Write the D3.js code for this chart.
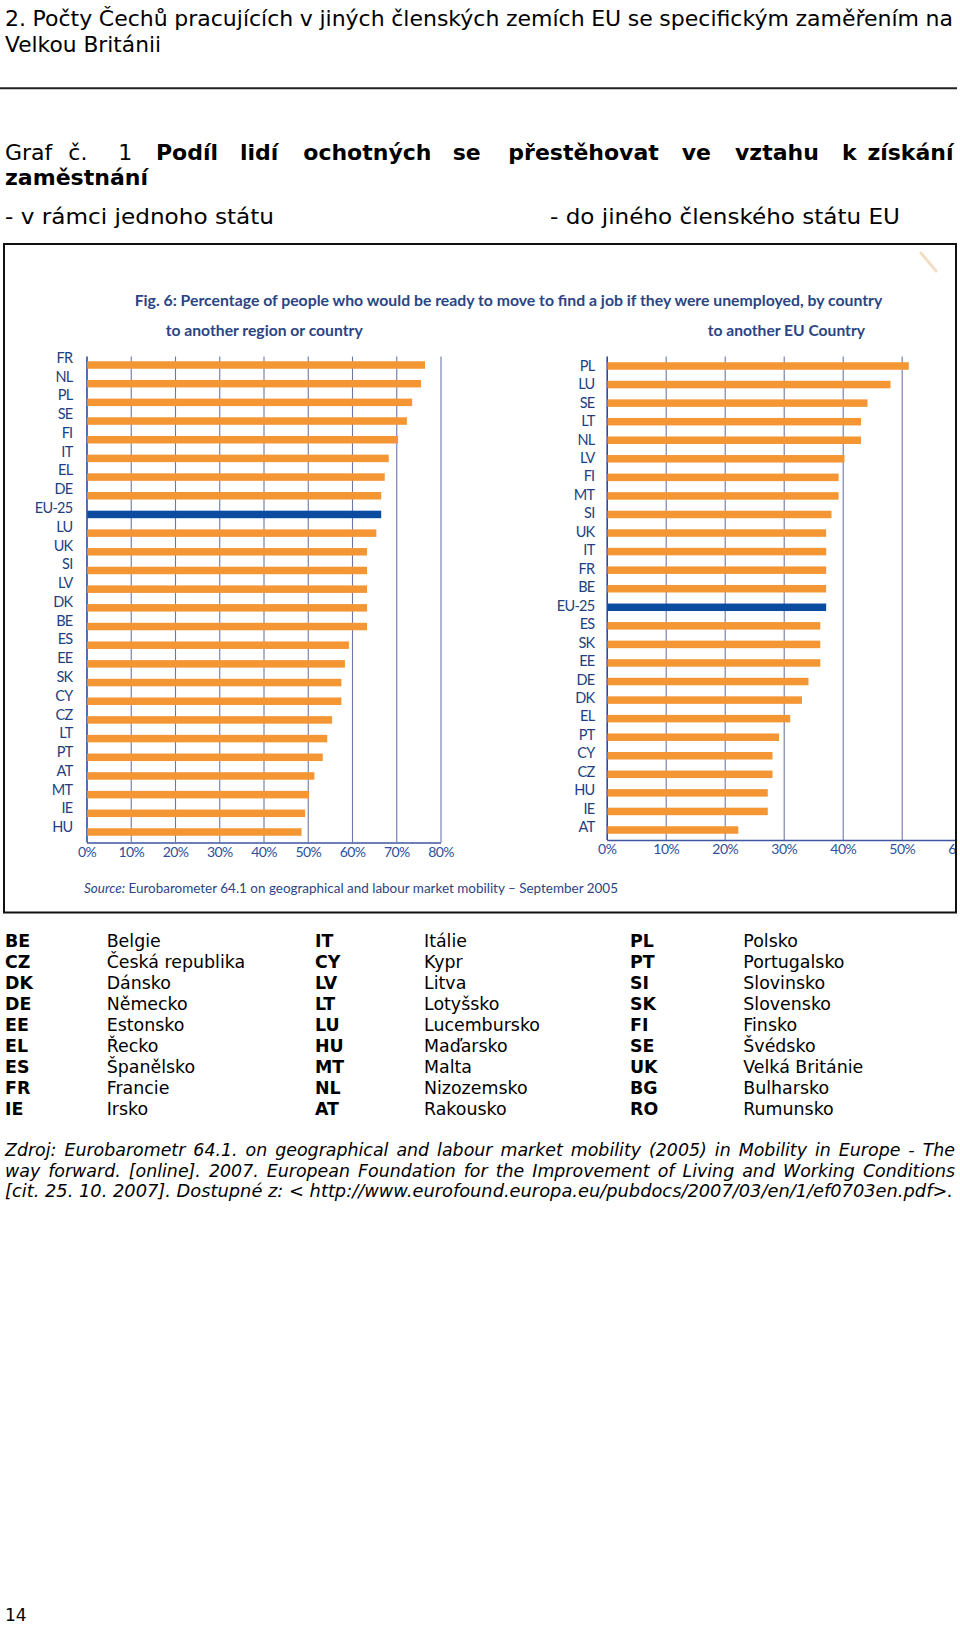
<!DOCTYPE html>
<html>
<head>
<meta charset="utf-8">
<script src="https://cdn.jsdelivr.net/npm/d3@7"></script>
<style>
  html, body { margin: 0; padding: 0; background: #fff; }
  svg { display: block; }
</style>
</head>
<body>
<script>
// ---------- DATA ----------
const leftCats = ["FR","NL","PL","SE","FI","IT","EL","DE","EU-25","LU","UK","SI","LV","DK","BE","ES","EE","SK","CY","CZ","LT","PT","AT","MT","IE","HU"];
const leftVals = [76.5,75.6,73.6,72.4,70.4,68.3,67.4,66.6,66.6,65.5,63.4,63.4,63.4,63.4,63.4,59.3,58.4,57.6,57.6,55.5,54.4,53.4,51.5,50.3,49.4,48.6];
const leftTicks = [0,10,20,30,40,50,60,70,80];

const rightCats = ["PL","LU","SE","LT","NL","LV","FI","MT","SI","UK","IT","FR","BE","EU-25","ES","SK","EE","DE","DK","EL","PT","CY","CZ","HU","IE","AT"];
const rightVals = [51.2,48.1,44.2,43.1,43.1,40.3,39.3,39.3,38.1,37.2,37.2,37.2,37.2,37.2,36.2,36.2,36.2,34.2,33.1,31.1,29.2,28.1,28.1,27.3,27.3,22.3];
const rightTicks = [0,10,20,30,40,50,60];

const legendCodes1 = ["BE","CZ","DK","DE","EE","EL","ES","FR","IE"];
const legendNames1 = ["Belgie","Česká republika","Dánsko","Německo","Estonsko","Řecko","Španělsko","Francie","Irsko"];
const legendCodes2 = ["IT","CY","LV","LT","LU","HU","MT","NL","AT"];
const legendNames2 = ["Itálie","Kypr","Litva","Lotyšsko","Lucembursko","Maďarsko","Malta","Nizozemsko","Rakousko"];
const legendCodes3 = ["PL","PT","SI","SK","FI","SE","UK","BG","RO"];
const legendNames3 = ["Polsko","Portugalsko","Slovinsko","Slovensko","Finsko","Švédsko","Velká Británie","Bulharsko","Rumunsko"];

const headerLine1 = "2. Počty Čechů pracujících v jiných členských zemích EU se specifickým zaměřením na";
const headerLine2 = "Velkou Británii";
const grafWords = [["Graf",false],["č.",false],["1",false],["Podíl",true],["lidí",true],["ochotných",true],["se",true],["přestěhovat",true],["ve",true],["vztahu",true],["k",true]];
const grafLastWord = "získání";
const grafLine2 = "zaměstnání";
const subLeft = "- v rámci jednoho státu";
const subRight = "- do jiného členského státu EU";
const figTitle = "Fig. 6: Percentage of people who would be ready to move to find a job if they were unemployed, by country";
const figSubLeft = "to another region or country";
const figSubRight = "to another EU Country";
const figSourceLabel = "Source:";
const figSourceText = " Eurobarometer 64.1 on geographical and labour market mobility – September 2005";
const sourceLines = [
  "Zdroj: Eurobarometr 64.1. on geographical and labour market mobility (2005) in Mobility in Europe - The",
  "way forward. [online]. 2007. European Foundation for the Improvement of Living and Working Conditions",
  "[cit. 25. 10. 2007]. Dostupné z: < http://www.eurofound.europa.eu/pubdocs/2007/03/en/1/ef0703en.pdf>."
];
const pageNumber = "14";

// ---------- STYLE ----------
const DOC_FONT = "Verdana, 'DejaVu Sans', sans-serif";
const CH_FONT = "Lato, 'Open Sans', sans-serif";
const TITLE_FONT = "Lato, 'Open Sans', sans-serif";
const ORANGE = "#f39633";
const BLUE = "#0b4ba0";
const NAVY = "#213f80";
const GRID = "#6d78a8";

const svg = d3.select("body").append("svg").attr("width", 960).attr("height", 1625);

function fitWords(sel, target) {
  const node = sel.node();
  const txt = sel.text();
  const spaces = (txt.match(/ /g) || []).length;
  const w = node.getComputedTextLength();
  if (spaces > 0) sel.attr("word-spacing", ((target - w) / spaces).toFixed(3));
}

// ---------- HEADER ----------
const h1 = svg.append("text").attr("x", 5).attr("y", 26)
  .attr("font-family", DOC_FONT).attr("font-size", 22).attr("fill", "#000").text(headerLine1);
fitWords(h1, 948);
svg.append("text").attr("x", 5).attr("y", 51.5)
  .attr("font-family", DOC_FONT).attr("font-size", 22).attr("fill", "#000")
  .attr("textLength", 156).attr("lengthAdjust", "spacingAndGlyphs").text(headerLine2);

svg.append("line").attr("x1", 0).attr("x2", 957).attr("y1", 88.3).attr("y2", 88.3)
  .attr("stroke", "#222").attr("stroke-width", 2);

const grafX = [5, 68.3, 118.3, 156, 240, 303.3, 452.7, 508.3, 681.7, 735, 842];
grafWords.forEach((w, i) => {
  svg.append("text").attr("x", grafX[i]).attr("y", 159.5)
    .attr("font-family", DOC_FONT).attr("font-size", 22)
    .attr("font-weight", w[1] ? "bold" : "normal").attr("fill", "#000").text(w[0]);
});
svg.append("text").attr("x", 953.5).attr("y", 159.5).attr("text-anchor", "end")
  .attr("font-family", DOC_FONT).attr("font-size", 22).attr("font-weight", "bold")
  .attr("fill", "#000").text(grafLastWord);
svg.append("text").attr("x", 5).attr("y", 185)
  .attr("font-family", DOC_FONT).attr("font-size", 22).attr("font-weight", "bold")
  .attr("textLength", 143).attr("lengthAdjust", "spacingAndGlyphs").text(grafLine2);
svg.append("text").attr("x", 5).attr("y", 224)
  .attr("font-family", DOC_FONT).attr("font-size", 22)
  .attr("textLength", 269).attr("lengthAdjust", "spacingAndGlyphs").text(subLeft);
svg.append("text").attr("x", 550).attr("y", 224)
  .attr("font-family", DOC_FONT).attr("font-size", 22)
  .attr("textLength", 350).attr("lengthAdjust", "spacingAndGlyphs").text(subRight);

// ---------- CHART FRAME ----------
svg.append("defs").append("clipPath").attr("id", "frameClip")
  .append("rect").attr("x", 5).attr("y", 245).attr("width", 950).attr("height", 666.5);

const chart = svg.append("g").attr("clip-path", "url(#frameClip)");

// pencil mark in corner of scan
chart.append("line").attr("x1", 921).attr("y1", 253).attr("x2", 936).attr("y2", 271)
  .attr("stroke", "#efd6b4").attr("stroke-width", 3).attr("stroke-linecap", "round").attr("opacity", 0.8);

chart.append("text").attr("x", 134.7).attr("y", 305.5)
  .attr("font-family", TITLE_FONT).attr("font-size", 16).attr("font-weight", "bold").attr("fill", "#2b4584")
  .attr("textLength", 747.6).attr("lengthAdjust", "spacingAndGlyphs").text(figTitle);
chart.append("text").attr("x", 165.7).attr("y", 335.7)
  .attr("font-family", TITLE_FONT).attr("font-size", 16).attr("font-weight", "bold").attr("fill", "#2b4584")
  .attr("textLength", 197).attr("lengthAdjust", "spacingAndGlyphs").text(figSubLeft);
chart.append("text").attr("x", 707.7).attr("y", 335.7)
  .attr("font-family", TITLE_FONT).attr("font-size", 16).attr("font-weight", "bold").attr("fill", "#2b4584")
  .attr("textLength", 157.3).attr("lengthAdjust", "spacingAndGlyphs").text(figSubRight);

const src = chart.append("text").attr("x", 84).attr("y", 892.7)
  .attr("font-family", CH_FONT).attr("font-size", 14).attr("fill", "#2b4584")
  .attr("textLength", 534).attr("lengthAdjust", "spacingAndGlyphs");
src.append("tspan").attr("font-style", "italic").text(figSourceLabel);
src.append("tspan").text(figSourceText);

function drawPanel(cats, vals, ticks, xRange, barRange, labelRange, labelX, gridTop, axisY) {
  const x = d3.scaleLinear().domain([0, ticks[ticks.length - 1]]).range(xRange);
  const yBar = d3.scalePoint().domain(cats).range(barRange);
  const yLab = d3.scalePoint().domain(cats).range(labelRange);

  const axis = d3.axisBottom(x).tickValues(ticks).tickFormat(d => d + "%")
    .tickSize(-(axisY - gridTop)).tickSizeOuter(0).tickPadding(4.5);
  const ag = chart.append("g").attr("transform", `translate(0,${axisY})`).call(axis);
  ag.select(".domain").attr("stroke", "#3f55a0").attr("stroke-width", 1.5);
  ag.selectAll(".tick line").attr("stroke", d => d === 0 ? "#2f4a9c" : GRID)
    .attr("stroke-width", d => d === 0 ? 1.6 : 1.1);
  ag.selectAll(".tick text").attr("fill", "#2d4f9e").attr("font-family", CH_FONT)
    .attr("font-size", 14).attr("letter-spacing", -0.6);

  const bh = 7.5;
  chart.append("g").selectAll("rect").data(cats).join("rect")
    .attr("x", x(0) + 0.8)
    .attr("y", d => yBar(d) - bh / 2)
    .attr("width", (d, i) => x(vals[i]) - x(0) - 0.8)
    .attr("height", bh)
    .attr("fill", d => d === "EU-25" ? BLUE : ORANGE);

  chart.append("g").selectAll("text").data(cats).join("text")
    .attr("x", labelX).attr("y", d => yLab(d)).attr("dy", "0.36em")
    .attr("text-anchor", "end")
    .attr("font-family", CH_FONT).attr("font-size", 14.5).attr("letter-spacing", -0.7)
    .attr("fill", NAVY).text(d => d);
}

drawPanel(leftCats, leftVals, leftTicks, [86.5, 440.5], [365, 832], [357.5, 827], 72.5, 356.5, 842.5);
drawPanel(rightCats, rightVals, rightTicks, [606.7, 960.7], [366, 830], [365.5, 827], 594.5, 356.5, 840);

svg.append("rect").attr("x", 4).attr("y", 244).attr("width", 952).attr("height", 668.5)
  .attr("fill", "none").attr("stroke", "#111").attr("stroke-width", 2);

// ---------- LEGEND ----------
const legCols = [
  [legendCodes1, legendNames1, 5, 106.7],
  [legendCodes2, legendNames2, 315, 424],
  [legendCodes3, legendNames3, 630, 743.3]
];
legCols.forEach(([codes, names, cx, nx]) => {
  const g = svg.append("g").attr("font-family", DOC_FONT).attr("font-size", 17.4).attr("fill", "#000");
  codes.forEach((c, i) => {
    const y = 947.3 + i * 20.95;
    g.append("text").attr("x", cx).attr("y", y).attr("font-weight", "bold").text(c);
    g.append("text").attr("x", nx).attr("y", y).text(names[i]);
  });
});

// ---------- SOURCE ----------
const srcY = [1156, 1176.7, 1197];
sourceLines.forEach((l, i) => {
  const t = svg.append("text").attr("x", 5).attr("y", srcY[i])
    .attr("font-family", DOC_FONT).attr("font-size", 17.4).attr("font-style", "italic")
    .attr("fill", "#000").text(l);
  if (i < 2) fitWords(t, 950);
  else t.attr("textLength", 948).attr("lengthAdjust", "spacingAndGlyphs");
});

svg.append("text").attr("x", 5).attr("y", 1621)
  .attr("font-family", DOC_FONT).attr("font-size", 17).attr("fill", "#000").text(pageNumber);
</script>
</body>
</html>
